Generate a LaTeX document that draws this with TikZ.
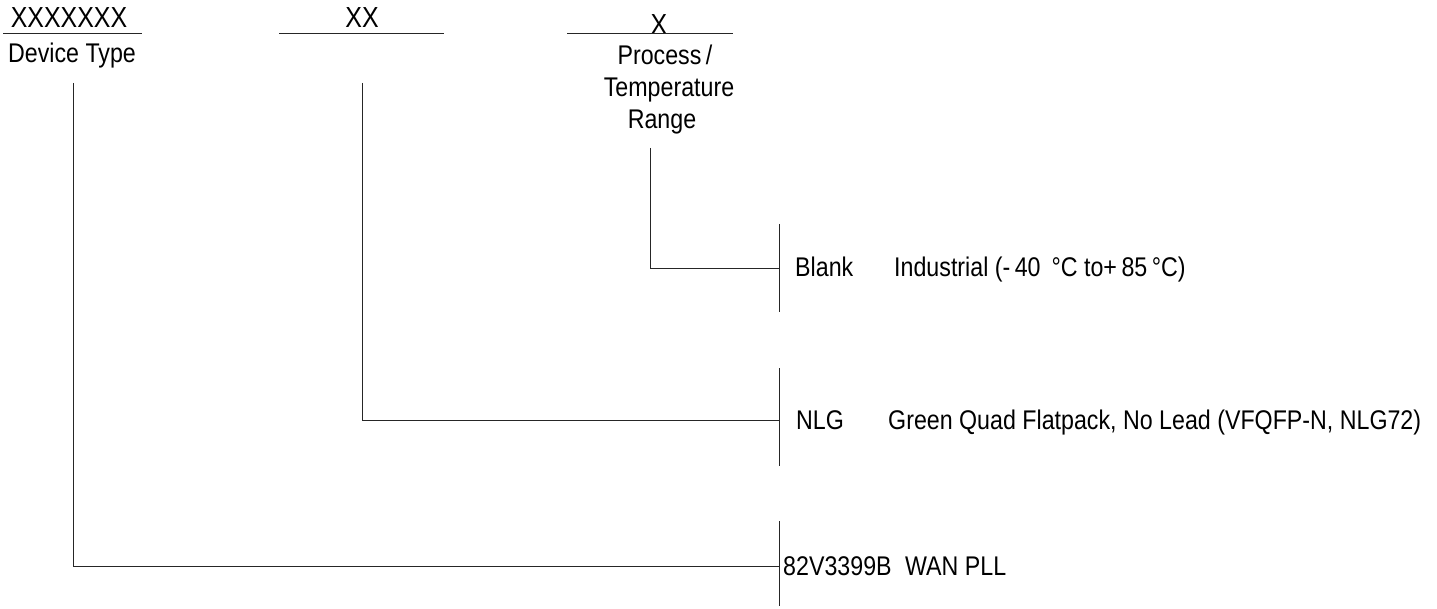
\documentclass[tikz,border=0pt]{standalone}
\usepackage{fontspec}
\setmainfont{Liberation Sans}[FakeStretch=0.86]
\begin{document}
\begin{tikzpicture}[x=1pt,y=-1pt,
  lbl/.style={inner sep=0pt,font=\fontsize{27}{32}\selectfont,anchor=base},
  hdr/.style={lbl,font=\fontsize{29}{34}\selectfont},
  lbll/.style={lbl,anchor=base west},
  ln/.style={line width=0.9pt,draw=black!85}]
\useasboundingbox (0,0) rectangle (1437,609);
% headers
\node[hdr] (x7) at (69,28) {XXXXXXX};
\draw[ln] (3,33) coordinate (u1a) -- (142,33) coordinate (u1b);
\node[lbl] (dt) at (72,63) {Device Type};
\node[hdr] (x2) at (362,28) {XX};
\draw[ln] (279,33) coordinate (u2a) -- (444,33) coordinate (u2b);
\node[hdr] (x1) at (659,35) {X};
\draw[ln] (567,33) coordinate (u3a) -- (733,33) coordinate (u3b);
\node[lbl] (p1) at (665,65) {Process\,/};
\node[lbl] (p2) at (669,97) {Temperature};
\node[lbl] (p3) at (662,129) {Range};
% bars
\coordinate (b1t) at (779,224); \coordinate (b1b) at (779,312);
\coordinate (b2t) at (779,368); \coordinate (b2b) at (779,466);
\coordinate (b3t) at (779,521); \coordinate (b3b) at (779,606);
\draw[ln] (b1t) -- (b1b);
\draw[ln] (b2t) -- (b2b);
\draw[ln] (b3t) -- (b3b);
% connectors
\coordinate (s1) at (650,148); \coordinate (j1) at (779,268);
\coordinate (s2) at (362,83);  \coordinate (j2) at (779,420);
\coordinate (s3) at (73,83);   \coordinate (j3) at (779,566);
\draw[ln] (s1) |- (j1);
\draw[ln] (s2) |- (j2);
\draw[ln] (s3) |- (j3);
% options
\node[lbll] (blank) at (795,277) {Blank};
\node[lbll] (ind) at (894,277) {Industrial (-\,40 \,°C to+\,85\,°C)};
\node[lbll] (nlg) at (796,429) {NLG};
\node[lbll] (gq) at (888,429) {Green Quad Flatpack, No Lead (VFQFP-N, NLG72)};
\node[lbll] (pn) at (783,575) {82V3399B\enspace WAN PLL};
\end{tikzpicture}
\end{document}
